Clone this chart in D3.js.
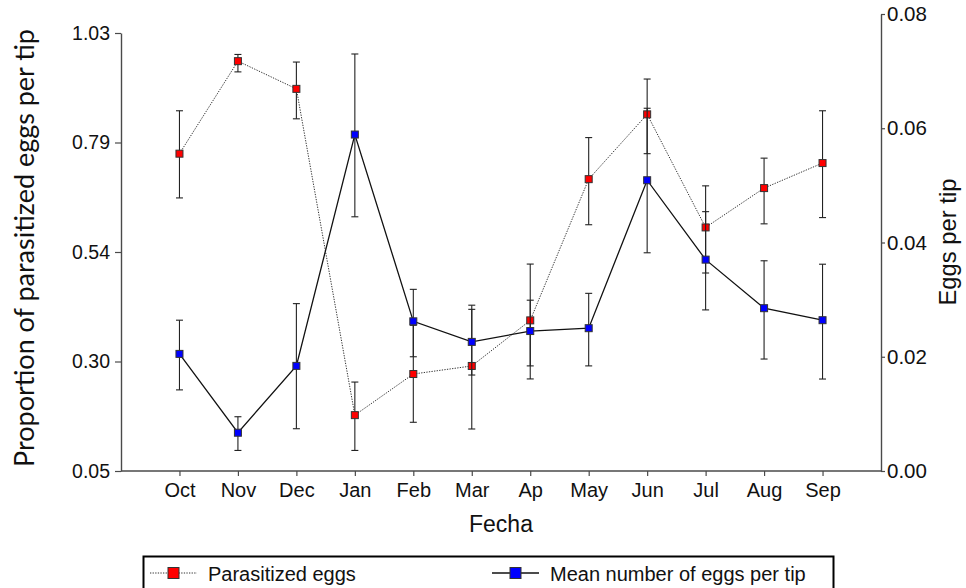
<!DOCTYPE html>
<html>
<head>
<meta charset="utf-8">
<script src="https://cdn.jsdelivr.net/npm/d3@7"></script>
<style>
  html, body { margin: 0; padding: 0; background: #fff; }
  svg { display: block; }
</style>
</head>
<body>
<svg id="chart" width="966" height="588"></svg>
<script>
// Sampling months
const months = ["Oct", "Nov", "Dec", "Jan", "Feb", "Mar", "Ap", "May", "Jun", "Jul", "Aug", "Sep"];

// Proportion of parasitized eggs per tip (left axis): mean, lower and upper error limits
const parasitized      = [0.760, 0.967, 0.905, 0.175, 0.267, 0.285, 0.387, 0.703, 0.848, 0.595, 0.683, 0.739];
const parasitizedLow   = [0.661, 0.943, 0.838, 0.096, 0.159, 0.144, 0.256, 0.601, 0.760, 0.493, 0.603, 0.617];
const parasitizedHigh  = [0.856, 0.982, 0.965, 0.249, 0.376, 0.421, 0.513, 0.796, 0.927, 0.688, 0.750, 0.856];

// Mean number of eggs per tip (right axis): mean, lower and upper error limits
const eggsPerTip       = [0.0205, 0.0067, 0.0184, 0.0589, 0.0262, 0.0226, 0.0245, 0.0250, 0.0509, 0.0370, 0.0285, 0.0264];
const eggsPerTipLow    = [0.0142, 0.0036, 0.0074, 0.0445, 0.0200, 0.0168, 0.0184, 0.0184, 0.0382, 0.0282, 0.0196, 0.0161];
const eggsPerTipHigh   = [0.0264, 0.0095, 0.0293, 0.0730, 0.0318, 0.0283, 0.0299, 0.0311, 0.0635, 0.0454, 0.0368, 0.0362];

// Axis ticks
const leftTicks       = [0.05, 0.295, 0.54, 0.785, 1.03];
const leftTickLabels  = ["0.05", "0.30", "0.54", "0.79", "1.03"];
const rightTicks      = [0.00, 0.02, 0.04, 0.06, 0.08];
const rightTickLabels = ["0.00", "0.02", "0.04", "0.06", "0.08"];

const svg = d3.select("#chart");

const plotLeft = 121, plotRight = 881, plotBottom = 471;

const x = d3.scalePoint().domain(months).range([plotLeft, plotRight]).padding(1);
const yL = d3.scaleLinear().domain([0.05, 1.03]).range([plotBottom, 33]);
const yR = d3.scaleLinear().domain([0, 0.08]).range([plotBottom, 14]);

const tickFont = "'Liberation Sans', Arial, sans-serif";
const titleFont = "Lato, 'Open Sans', sans-serif";
const axisColor = "#4a4a4a";

function styleAxis(g, fontSize) {
  g.select(".domain").attr("stroke", axisColor).attr("stroke-width", 1.4);
  g.selectAll(".tick line").attr("stroke", axisColor).attr("stroke-width", 1.2);
  g.selectAll(".tick text")
    .attr("fill", "#111")
    .style("font-family", tickFont)
    .style("font-size", fontSize + "px");
}

// Left axis
const gL = svg.append("g")
  .attr("transform", `translate(${plotLeft},0)`)
  .call(d3.axisLeft(yL).tickValues(leftTicks)
    .tickFormat((d, i) => leftTickLabels[i])
    .tickSize(6).tickSizeOuter(0).tickPadding(5));
styleAxis(gL, 19.5);

// Right axis
const gR = svg.append("g")
  .attr("transform", `translate(${plotRight},0)`)
  .call(d3.axisRight(yR).tickValues(rightTicks)
    .tickFormat((d, i) => rightTickLabels[i])
    .tickSize(4).tickSizeOuter(0).tickPadding(2));
styleAxis(gR, 20.5);

// Bottom axis
const gB = svg.append("g")
  .attr("transform", `translate(0,${plotBottom})`)
  .call(d3.axisBottom(x).tickSize(5).tickSizeOuter(0).tickPadding(7));
gB.select(".domain").attr("d", `M${plotLeft},0H${plotRight}`);
styleAxis(gB, 20);

// Axis titles, sized to span their intended length
function fittedTitle(cx, cy, label, span, family) {
  const t = svg.append("text")
    .attr("transform", `translate(${cx},${cy}) rotate(-90)`)
    .attr("text-anchor", "middle")
    .style("font-family", family)
    .style("font-size", "20px")
    .attr("fill", "#111")
    .text(label);
  const w = t.node().getComputedTextLength();
  if (w > 0) t.style("font-size", (20 * span / w).toFixed(2) + "px");
  return t;
}
fittedTitle(34, 248, "Proportion of parasitized eggs per tip", 438, titleFont);
fittedTitle(956, 242, "Eggs per tip", 127, tickFont);

svg.append("text")
  .attr("x", 501).attr("y", 532)
  .attr("text-anchor", "middle")
  .style("font-family", tickFont)
  .style("font-size", "23px")
  .attr("fill", "#111")
  .text("Fecha");

// Error bars, series lines and markers
const capHalf = 3.5;
const markerSize = 7;

function drawSeries(values, low, high, yScale, color, dash) {
  const g = svg.append("g");
  const idx = d3.range(values.length);

  const bars = g.selectAll(".err").data(idx).join("g").attr("class", "err")
    .attr("stroke", "#222").attr("stroke-width", 1.1);
  bars.append("line")
    .attr("x1", i => x(months[i])).attr("x2", i => x(months[i]))
    .attr("y1", i => yScale(low[i])).attr("y2", i => yScale(high[i]));
  bars.append("line")
    .attr("x1", i => x(months[i]) - capHalf).attr("x2", i => x(months[i]) + capHalf)
    .attr("y1", i => yScale(low[i])).attr("y2", i => yScale(low[i]));
  bars.append("line")
    .attr("x1", i => x(months[i]) - capHalf).attr("x2", i => x(months[i]) + capHalf)
    .attr("y1", i => yScale(high[i])).attr("y2", i => yScale(high[i]));

  const line = d3.line().x(i => x(months[i])).y(i => yScale(values[i]));
  g.append("path")
    .attr("d", line(idx))
    .attr("fill", "none")
    .attr("stroke", dash ? "#333" : "#111")
    .attr("stroke-width", dash ? 1 : 1.3)
    .attr("stroke-dasharray", dash ? "1.3,1.3" : null);

  g.selectAll(".mk").data(idx).join("rect").attr("class", "mk")
    .attr("x", i => x(months[i]) - markerSize / 2)
    .attr("y", i => yScale(values[i]) - markerSize / 2)
    .attr("width", markerSize).attr("height", markerSize)
    .attr("fill", color)
    .attr("stroke", "#333").attr("stroke-width", 1);
}

drawSeries(parasitized, parasitizedLow, parasitizedHigh, yL, "#ff0000", true);
drawSeries(eggsPerTip, eggsPerTipLow, eggsPerTipHigh, yR, "#0000ff", false);

// Legend
const legend = svg.append("g");
legend.append("rect")
  .attr("x", 143.5).attr("y", 556.5).attr("width", 690).attr("height", 50)
  .attr("fill", "#fff").attr("stroke", "#000").attr("stroke-width", 2);

const legendItems = [
  { label: "Parasitized eggs", color: "#ff0000", dash: true, x0: 150, x1: 197, tx: 208 },
  { label: "Mean number of eggs per tip", color: "#0000ff", dash: false, x0: 492, x1: 539, tx: 550 }
];
const ly = 573;
legendItems.forEach(d => {
  legend.append("line")
    .attr("x1", d.x0).attr("x2", d.x1).attr("y1", ly).attr("y2", ly)
    .attr("stroke", d.dash ? "#333" : "#111")
    .attr("stroke-width", d.dash ? 1 : 1.3)
    .attr("stroke-dasharray", d.dash ? "1.3,1.3" : null);
  legend.append("rect")
    .attr("x", (d.x0 + d.x1) / 2 - 5.5).attr("y", ly - 5.5)
    .attr("width", 11).attr("height", 11)
    .attr("fill", d.color).attr("stroke", "#333").attr("stroke-width", 1);
  legend.append("text")
    .attr("x", d.tx).attr("y", ly + 8)
    .style("font-family", tickFont)
    .style("font-size", "20px")
    .attr("fill", "#111")
    .text(d.label);
});
</script>
</body>
</html>
